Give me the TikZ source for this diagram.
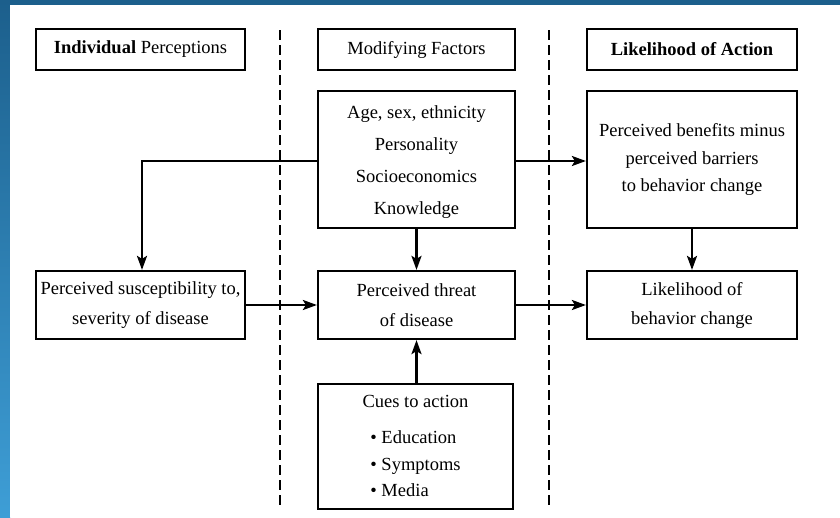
\documentclass[tikz,border=0pt]{standalone}
\usepackage{fontspec}
\setmainfont{Liberation Serif}
\usetikzlibrary{arrows.meta}
\definecolor{frameblue}{RGB}{28,95,140}
\definecolor{framelight}{RGB}{62,158,214}
\tikzset{
  px/.style={x=1pt,y=-1pt},
  box/.style={draw,line width=2.2pt,inner sep=0pt,align=center,font=\fontsize{18.5}{30}\selectfont},
  flow/.style={line width=2.4pt,-{Stealth[length=14pt,width=10pt,inset=3pt]}},
  divider/.style={line width=1.8pt,dash pattern=on 10pt off 5pt},
}
\begin{document}
\begin{tikzpicture}[px]
  \useasboundingbox (0,0) rectangle (840,517);
  % slide frame
  \fill[frameblue] (0,0) rectangle (840,5);
  \shade[top color=frameblue,bottom color=framelight] (0,0) rectangle (10,517);
  \fill[white] (10,5) rectangle (840,517);

  % column dividers
  \draw[divider] (280,30) -- (280,508);
  \draw[divider] (549,30) -- (549,508);

  % column headings
  \node[box,minimum width=209pt,minimum height=41pt] (h1) at (140.5,49.5)
    {\textbf{Individual} Perceptions};
  \node[box,minimum width=197pt,minimum height=41pt] (h2) at (416.5,49.5)
    {Modifying Factors};
  \node[box,minimum width=210pt,minimum height=41pt] (h3) at (692,49.5)
    {\textbf{Likelihood of Action}};

  % main boxes
  \node[box,minimum width=197pt,minimum height=137pt,font=\fontsize{18.5}{32}\selectfont] (mod) at (416.5,159.5)
    {\rule{0pt}{18pt}Age, sex, ethnicity\\Personality\\Socioeconomics\\Knowledge};
  \node[box,minimum width=210pt,minimum height=137pt,font=\fontsize{18.5}{27.5}\selectfont] (ben) at (692,159.5)
    {Perceived benefits minus\\perceived barriers\\to behavior change};
  \node[box,minimum width=209pt,minimum height=68pt,font=\fontsize{18.5}{30}\selectfont] (sus) at (140.5,305)
    {Perceived susceptibility to,\\severity of disease};
  \node[box,minimum width=197pt,minimum height=68pt,font=\fontsize{18.5}{30}\selectfont] (thr) at (416.5,305)
    {Perceived threat\\of disease};
  \node[box,minimum width=210pt,minimum height=68pt,font=\fontsize{18.5}{29}\selectfont] (lik) at (692,305)
    {Likelihood of\\behavior change};
  \node[box,minimum width=195pt,minimum height=125pt,font=\fontsize{18.5}{26.5}\selectfont] (cue) at (415.5,446.5)
    {\rule{0pt}{19pt}Cues to action\\[17pt]
     \begin{tabular}{@{}l@{}}\textbullet\ Education\\ \textbullet\ Symptoms\\ \textbullet\ Media\end{tabular}};

  % connectors
  \coordinate (bend) at (142,161);
  \draw[flow] (mod.west |- bend) -- (bend) -- (sus.north -| bend);
  \draw[flow] (mod.east |- bend) -- (ben.west |- bend);
  \draw[flow] (mod.south) -- (thr.north);
  \draw[flow] (ben.south) -- (lik.north);
  \draw[flow] (sus.east) -- (thr.west);
  \draw[flow] (thr.east) -- (lik.west);
  \draw[flow] (cue.north -| thr.south) -- (thr.south);
\end{tikzpicture}
\end{document}
